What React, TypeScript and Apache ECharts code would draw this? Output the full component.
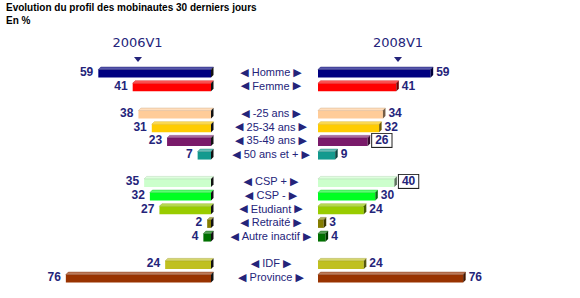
import React, { useEffect, useRef } from 'react';
import * as echarts from 'echarts';

const categories = ['Homme', 'Femme', '', '-25 ans', '25-34 ans', '35-49 ans', '50 ans et +', '', 'CSP +', 'CSP -', 'Etudiant', 'Retraité', 'Autre inactif', '', 'IDF', 'Province'];
const values2006: (number | null)[] = [59, 41, null, 38, 31, 23, 7, null, 35, 32, 27, 2, 4, null, 24, 76];
const values2008: (number | null)[] = [59, 41, null, 34, 32, 26, 9, null, 40, 30, 24, 3, 4, null, 24, 76];
const barColors = ['#000080', '#ff0000', '', '#ffcc99', '#ffcc00', '#7a1a6a', '#139a8e', '', '#ccffcc', '#00ff22', '#99cc00', '#857d00', '#007000', '', '#c0c020', '#993300'];
const boxed2008 = ['35-49 ans', 'CSP +'];
const periods = ['2006V1', '2008V1'];
const title = 'Evolution du profil des mobinautes 30 derniers jours';
const subtitle = 'En %';

const NAVY = '#24247a';
const FONT = '"Liberation Sans", Arial, sans-serif';

function mix(hex: string, target: number, f: number) {
  const n = parseInt(hex.slice(1), 16);
  const r = (n >> 16) & 255, g = (n >> 8) & 255, b = n & 255;
  const m = (c: number) => Math.round(c + (target - c) * f);
  return `rgb(${m(r)},${m(g)},${m(b)})`;
}

const D = 2.5;

function makeRender(side: 'left' | 'right') {
  return (params: any, api: any) => {
    const v = api.value(0);
    const idx = api.value(1);
    const color = barColors[idx];
    const p0 = api.coord([0, idx]);
    const p1 = api.coord([v, idx]);
    const xmin = Math.min(p0[0], p1[0]);
    const xmax = Math.max(p0[0], p1[0]);
    const yc = p0[1];
    const yt = yc - 2.5;
    const yb = yc + 5.5;
    const top = mix(color, 255, 0.35);
    const cap = side === 'left' ? '#111111' : mix(color, 0, 0.55);
    const isBoxed = side === 'right' && boxed2008.includes(categories[idx]);
    const children: any[] = [
      { type: 'rect', shape: { x: xmin, y: yt, width: xmax - xmin, height: yb - yt }, style: { fill: color } },
      { type: 'polygon', shape: { points: [[xmin, yt], [xmin + D, yt - D], [xmax + D, yt - D], [xmax, yt]] }, style: { fill: top, stroke: mix(color, 0, 0.2), lineWidth: 0.4 } },
      { type: 'polygon', shape: { points: [[xmax, yt], [xmax + D, yt - D], [xmax + D, yb - D], [xmax, yb]] }, style: { fill: cap } },
    ];
    if (side === 'left') {
      children.push({
        type: 'text',
        style: { text: String(v), x: xmin - 5, y: yc, align: 'right', verticalAlign: 'middle', font: `bold 12px ${FONT}`, fill: NAVY },
      });
    } else {
      children.push({
        type: 'text',
        style: Object.assign(
          { text: String(v), x: xmax + D + (isBoxed ? 2 : 3), y: yc, align: 'left', verticalAlign: 'middle', font: `bold 12px ${FONT}`, fill: NAVY },
          isBoxed ? { backgroundColor: '#ffffff', borderColor: '#222222', borderWidth: 1, padding: [1, 3, 0, 3] } : {}
        ),
      });
    }
    return { type: 'group', children };
  };
}

const toData = (vals: (number | null)[]) => vals.flatMap((v, i) => (v == null ? [] : [[v, i]]));

export default function App() {
  const ref = useRef<HTMLDivElement>(null);
  useEffect(() => {
    if (!ref.current) return;
    const chart = echarts.init(ref.current, undefined, { renderer: 'svg' });
    const gridTop = 65.2;
    const gridH = 218.7;
    chart.setOption({
      animation: false,
      backgroundColor: '#ffffff',
      grid: [
        { left: 20, width: 191, top: gridTop, height: gridH },
        { left: 318, width: 191, top: gridTop, height: gridH },
      ],
      xAxis: [
        { gridIndex: 0, type: 'value', min: 0, max: 100, inverse: true, show: false },
        { gridIndex: 1, type: 'value', min: 0, max: 100, show: false },
      ],
      yAxis: [
        { gridIndex: 0, type: 'category', data: categories, inverse: true, axisLine: { show: false }, axisTick: { show: false }, axisLabel: { show: false }, splitLine: { show: false } },
        {
          gridIndex: 1, type: 'category', data: categories, inverse: true,
          axisLine: { show: false }, axisTick: { show: false }, splitLine: { show: false },
          axisLabel: {
            interval: 0, margin: 47, align: 'center',
            formatter: (v: string) => (v ? `{a|◀} ${v} {a|▶}` : ''),
            color: NAVY, fontSize: 11, fontFamily: FONT,
            rich: { a: { fontSize: 11, color: NAVY, fontFamily: 'DejaVu Sans' } },
          },
        },
      ],
      graphic: [
        { type: 'text', left: 6, top: 2, style: { text: title, font: `bold 10px ${FONT}`, fill: '#000' } },
        { type: 'text', left: 6, top: 15, style: { text: subtitle, font: `bold 10px ${FONT}`, fill: '#000' } },
        { type: 'text', x: 137.5, y: 42, style: { text: periods[0], align: 'center', verticalAlign: 'middle', font: '13px "DejaVu Sans", sans-serif', fill: NAVY } },
        { type: 'text', x: 398, y: 42, style: { text: periods[1], align: 'center', verticalAlign: 'middle', font: '13px "DejaVu Sans", sans-serif', fill: NAVY } },
        { type: 'polygon', shape: { points: [[134, 57], [142, 57], [138, 62]] }, style: { fill: NAVY } },
        { type: 'polygon', shape: { points: [[394, 57], [402, 57], [398, 62]] }, style: { fill: NAVY } },
      ],
      series: [
        { type: 'custom', xAxisIndex: 0, yAxisIndex: 0, renderItem: makeRender('left'), encode: { x: 0, y: 1 }, data: toData(values2006) },
        { type: 'custom', xAxisIndex: 1, yAxisIndex: 1, renderItem: makeRender('right'), encode: { x: 0, y: 1 }, data: toData(values2008) },
      ],
    });
    return () => chart.dispose();
  }, []);
  return <div ref={ref} style={{ position: 'fixed', left: 0, top: 0, width: 580, height: 298 }} />;
}
